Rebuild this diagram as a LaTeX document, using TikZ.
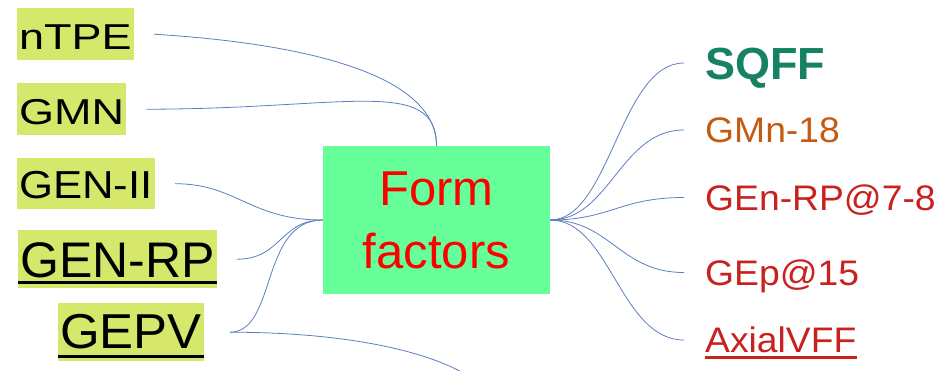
\documentclass[tikz,border=0pt]{standalone}
\usepackage{fontspec}
\setmainfont{Liberation Sans}
\newfontfamily\fA[FakeStretch=1.25]{Liberation Sans}
\newfontfamily\fB[FakeStretch=1.12]{Liberation Sans}
\newfontfamily\fC[FakeStretch=1.04]{Liberation Sans}
\newfontfamily\fD[FakeStretch=1.05]{Liberation Sans}
\definecolor{hl}{HTML}{D5E86C}
\definecolor{boxg}{HTML}{66FF99}
\definecolor{conn}{HTML}{5B7FBF}
\definecolor{teal}{HTML}{168264}
\definecolor{burnt}{HTML}{C55A11}
\definecolor{dred}{HTML}{C9211E}
\begin{document}
\begin{tikzpicture}[x=1pt,y=-1pt,
  leftbox/.style={anchor=north west,fill=hl,inner xsep=2pt,inner ysep=0pt,text=black},
  rightlbl/.style={anchor=west,inner sep=0pt,text depth=0pt},
  conline/.style={draw=conn,line width=0.8pt},
  uline/.style={line width=#1,line cap=butt}]
\clip (0,0) rectangle (937,370);
% centre
\node[fill=boxg,minimum width=227pt,minimum height=148pt,inner sep=0pt,align=center,text=red,
  font=\fontsize{49}{63}\selectfont] (ff) at (436.5,220) {Form\\factors};
% left nodes
\node[leftbox,text height=41pt,text depth=11pt,font=\fA\fontsize{36}{40}\selectfont] (ntpe) at (17,8) {nTPE};
\node[leftbox,text height=41pt,text depth=11pt,font=\fA\fontsize{36}{40}\selectfont] (gmn) at (17,83) {GMN};
\node[leftbox,text height=40pt,text depth=11pt,font=\fB\fontsize{39}{44}\selectfont] (gen2) at (17,158) {GEN-II};
\node[leftbox,text height=47pt,text depth=11pt,font=\fontsize{50}{56}\selectfont] (genrp) at (18,230) {GEN-RP};
\node[leftbox,text height=45pt,text depth=13pt,font=\fC\fontsize{49}{55}\selectfont] (gepv) at (58,303) {GEPV};
\draw[uline=3pt] ([yshift=6pt]genrp.south west) -- ([yshift=6pt]genrp.south east);
\draw[uline=3pt] ([yshift=5pt]gepv.south west) -- ([yshift=5pt]gepv.south east);
% right nodes
\node[rightlbl,text height=32pt,text=teal,font=\bfseries\fontsize{45}{50}\selectfont] (sqff) at (705,63) {SQFF};
\node[rightlbl,text height=25.5pt,text=burnt,font=\fD\fontsize{35.5}{40}\selectfont] (gmn18) at (705,130) {GMn-18};
\node[rightlbl,text height=25.5pt,text=dred,font=\fD\fontsize{35.5}{40}\selectfont] (genrp78) at (705,197.5) {GEn-RP@7-8};
\node[rightlbl,text height=25.5pt,text=dred,font=\fD\fontsize{35.5}{40}\selectfont] (gep15) at (705,272.5) {GEp@15};
\node[rightlbl,text height=25.5pt,text=dred,font=\fD\fontsize{35.5}{40}\selectfont] (axial) at (705,340) {AxialVFF};
\draw[uline=2.5pt,dred] ([yshift=-4.5pt]axial.south west) -- ([yshift=-4.5pt]axial.south east);
\coordinate (offnode) at (492,395);
% connectors left / top
\draw[conline] ([xshift=20pt]ntpe.east) .. controls +(97,6) and +(0,-85) .. (ff.north);
\draw[conline] ([xshift=20pt]gmn.east) .. controls +(200,0) and +(0,-70) .. (ff.north);
\draw[conline] ([xshift=20pt]gen2.east) .. controls +(62,0) and +(-73,0) .. (ff.west);
\draw[conline] ([xshift=20pt]genrp.east) .. controls +(45,0) and +(-43,0) .. (ff.west);
\draw[conline] ([xshift=26pt]gepv.east) .. controls +(47,0) and +(-63,0) .. (ff.west);
\draw[conline] ([xshift=26pt]gepv.east) .. controls +(110,0) and +(-40,-45) .. (offnode);
% connectors right
\draw[conline] (ff.east) .. controls +(60,0) and +(-64,0) .. ([xshift=-21pt]sqff.west);
\draw[conline] (ff.east) .. controls +(60,0) and +(-64,0) .. ([xshift=-21pt]gmn18.west);
\draw[conline] (ff.east) .. controls +(60,0) and +(-64,0) .. ([xshift=-21pt]genrp78.west);
\draw[conline] (ff.east) .. controls +(60,0) and +(-64,0) .. ([xshift=-21pt]gep15.west);
\draw[conline] (ff.east) .. controls +(60,0) and +(-64,0) .. ([xshift=-21pt]axial.west);
\end{tikzpicture}
\end{document}
